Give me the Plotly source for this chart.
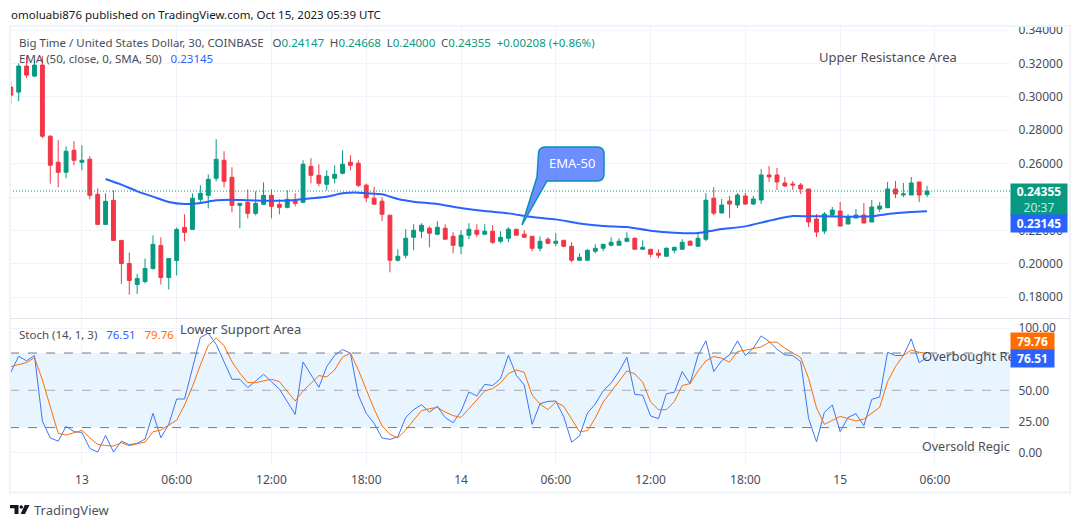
import pandas as pd
import plotly.graph_objects as go

W, H = 1080, 528

opens = [.3058,.3028,.3184,.3124,.3190,.2764,.2608,.2548,.2680,.2608,
.2626,.2416,.2236,.2380,.2140,.2002,.1876,.1894,.1972,.2110,
.1918,.2020,.2218,.2206,.2386,.2410,.2512,.2620,.2518,.2350,
.2368,.2302,.2356,.2410,.2356,.2338,.2380,.2368,.2584,.2530,
.2476,.2512,.2542,.2608,.2602,
.2471,.2393,.2375,.2291,.2021,.2051,.2159,.2195,.2213,.2177,
.2213,.2165,.2105,.2171,.2201,.2177,.2195,.2135,.2153,.2207,
.2177,.2165,.2093,.2147,.2123,.2141,.2105,.2021,.2021,.2075,
.2093,.2111,.2111,.2135,.2153,.2087,.2087,.2063,.2045,.2081,
.2087,.2135,.2105,.2147,.2393,
.2304,.2376,.2352,.2406,.2358,.2382,.2532,.2532,.2484,.2478,.2472,.2448,.2268,.2196,.2292,.2316,.2238,.2274,.2292,.2250,.2328,.2336,.2448,.2412,.2412,.2490,.24147]
closes = [.3010,.3184,.3130,.3190,.2764,.2590,.2548,.2674,.2620,.2620,
.2410,.2236,.2374,.2140,.2002,.1900,.1912,.1972,.2116,.1918,
.2032,.2206,.2188,.2392,.2422,.2506,.2626,.2494,.2350,.2362,
.2302,.2362,.2410,.2344,.2338,.2386,.2362,.2596,.2530,.2482,
.2524,.2536,.2596,.2590,.2470,
.2395,.2357,.2297,.2021,.2045,.2153,.2201,.2231,.2183,.2219,
.2147,.2111,.2171,.2207,.2177,.2195,.2129,.2159,.2207,.2171,
.2159,.2093,.2135,.2123,.2135,.2105,.2021,.2039,.2081,.2093,
.2117,.2129,.2135,.2153,.2087,.2099,.2057,.2051,.2093,.2099,
.2129,.2111,.2153,.2381,.2303,
.2352,.2358,.2412,.2358,.2388,.2532,.2520,.2490,.2466,.2472,.2448,.2250,.2190,.2298,.2322,.2226,.2280,.2292,.2244,.2340,.2346,.2448,.2418,.2418,.2484,.2412,.24355]
highs = [.3094,.3200,.3240,.3220,.3244,.2770,.2740,.2704,.2734,.2710,
.2644,.2452,.2422,.2440,.2140,.2068,.1940,.2032,.2170,.2158,
.2032,.2218,.2296,.2422,.2470,.2536,.2746,.2674,.2578,.2362,
.2446,.2434,.2488,.2446,.2386,.2440,.2422,.2620,.2632,.2596,
.2560,.2590,.2680,.2650,.2620,
.2481,.2461,.2399,.2291,.2087,.2207,.2237,.2243,.2225,.2255,
.2237,.2189,.2201,.2243,.2237,.2237,.2231,.2195,.2219,.2207,
.2201,.2165,.2165,.2159,.2183,.2141,.2129,.2063,.2087,.2117,
.2117,.2159,.2153,.2189,.2159,.2141,.2087,.2087,.2099,.2099,
.2147,.2141,.2189,.2423,.2459,
.2388,.2406,.2424,.2424,.2406,.2568,.2586,.2574,.2520,.2496,.2484,.2448,.2298,.2310,.2340,.2370,.2298,.2328,.2364,.2382,.2370,.2490,.2496,.2484,.2520,.2490,.24668]
lows = [.2956,.2974,.3112,.3118,.2752,.2480,.2458,.2512,.2590,.2560,
.2386,.2236,.2236,.2140,.1880,.1816,.1820,.1882,.1966,.1876,
.1846,.1930,.2134,.2206,.2362,.2332,.2494,.2458,.2308,.2212,
.2272,.2290,.2356,.2272,.2296,.2332,.2344,.2368,.2482,.2464,
.2440,.2482,.2536,.2560,.2460,
.2369,.2357,.2255,.1949,.2015,.2033,.2081,.2153,.2099,.2171,
.2147,.2063,.2057,.2147,.2159,.2177,.2117,.2123,.2129,.2171,
.2159,.2075,.2075,.2117,.2105,.2099,.2009,.2021,.2021,.2063,
.2075,.2105,.2111,.2129,.2087,.2087,.2039,.2033,.2045,.2063,
.2087,.2111,.2105,.2135,.2291,
.2304,.2274,.2334,.2352,.2352,.2358,.2490,.2442,.2460,.2442,.2418,.2220,.2160,.2178,.2286,.2226,.2238,.2274,.2244,.2250,.2310,.2334,.2394,.2400,.2412,.2370,.24000]

ema_bars = [12,14,16,18,20,22,24,26,28,30,32,34,36,38,40,42,44,45,47,49,51,54,57,60,63,66,69,72,75,78,81,84,87,89,90,93,96,99,101,103,106,109,111,114,116]
ema_vals = [.2508,.2474,.2434,.2402,.2370,.2358,.2364,.2380,.2384,.2380,.2378,.2378,.2382,.2392,.2402,.2422,.2426,.2422,.2416,.2388,.2372,.2358,.2334,.2316,.2302,.2280,.2266,.2242,.2226,.2220,.2198,.2186,.2184,.2200,.2208,.2224,.2258,.2286,.2284,.2284,.2282,.2284,.2298,.2310,.23145]

stoch_k = [64.5,77.4,73.7,78.0,25.3,11.6,9.1,21.0,16.7,16.1,3.2,0.3,13.7,0.3,9.1,6.2,7.3,10.8,31.5,11.8,22.6,43.0,43.0,67.7,92.5,96.0,87.0,73.0,58.9,58.9,52.2,57.5,62.9,57.0,51.0,40.9,30.6,72.8,62.4,52.4,69.1,78.0,82.8,79.8,46.2,
31.5,23.4,11.6,10.5,12.6,28.2,34.4,38.4,32.5,37.1,28.0,23.9,33.1,48.7,45.4,54.8,53.8,59.4,78.2,62.1,54.3,22.6,39.2,41.1,41.4,28.8,8.3,13.2,31.7,39.0,49.7,55.9,65.1,76.6,46.8,46.0,29.3,27.2,47.3,48.4,65.1,55.4,78.0,89.8,65.1,
73.9,78.5,89.8,78.0,83.9,93.8,89.2,83.1,78.5,78.0,73.1,27.4,8.6,32.3,38.2,16.7,28.2,31.2,21.5,42.7,44.6,80.6,78.0,78.0,91.4,72.3,76.51]
stoch_d = [69.1,70.4,72.3,76.3,58.3,36.8,15.3,14.0,15.9,17.7,11.8,6.5,5.6,5.1,7.8,5.4,7.0,8.3,16.7,18.0,22.0,26.0,38.2,53.0,70.4,86.0,92.0,86.0,73.0,63.7,56.2,56.2,57.5,58.9,57.0,48.9,41.4,49.5,55.6,61.8,60.8,66.4,76.6,80.0,66.4,
51.1,34.9,21.5,14.5,11.8,18.0,26.1,33.6,35.2,36.3,32.5,29.6,28.2,34.9,42.2,49.5,51.3,55.9,63.4,66.4,64.5,46.2,39.0,34.4,40.6,37.1,26.9,16.7,17.5,27.7,40.6,48.7,57.0,65.6,63.2,56.5,40.6,34.4,34.4,40.9,53.8,55.4,65.6,73.7,77.2,
75.8,72.6,81.2,82.3,83.9,84.9,88.7,88.7,83.9,80.4,76.3,59.7,36.0,22.6,26.1,29.0,27.2,25.3,26.9,31.5,36.3,57.0,69.1,78.0,82.3,80.6,79.76]

start_time = "2023-10-12 19:30"
x_range = ["2023-10-12 19:27", "2023-10-15 10:45"]
tick_times = ["2023-10-13 00:00","2023-10-13 06:00","2023-10-13 12:00","2023-10-13 18:00","2023-10-14 00:00",
              "2023-10-14 06:00","2023-10-14 12:00","2023-10-14 18:00","2023-10-15 00:00","2023-10-15 06:00"]
tick_labels = ["13","06:00","12:00","18:00","14","06:00","12:00","18:00","15","06:00"]
price_ticks = [.18,.20,.22,.24,.26,.28,.30,.32,.34]
price_labels = ["0.18000","0.20000","0.22000","","0.26000","0.28000","0.30000","0.32000","0.34000"]
stoch_ticks = [0,25,50,75,100]
stoch_labels = ["0.00","25.00","50.00","","100.00"]
overbought, oversold, midline = 80, 20, 50
last_close = closes[-1]

times = pd.date_range(start_time, periods=len(closes), freq="30min")
ema_x = [times[i] for i in ema_bars]

UP, DOWN, BLUE, ORANGE = "#089981", "#F23645", "#2962FF", "#FF6D00"
GRID = "#F0F3FA"
TXT = "#4A4D57"
FONT = "Noto Sans"

def px(x): return x / W
def py(y): return 1 - y / H

fig = go.Figure()
fig.add_trace(go.Candlestick(x=times, open=opens, high=highs, low=lows, close=closes,
    increasing=dict(line=dict(color=UP, width=1), fillcolor=UP),
    decreasing=dict(line=dict(color=DOWN, width=1), fillcolor=DOWN),
    xaxis="x", yaxis="y", showlegend=False))
fig.add_trace(go.Scatter(x=ema_x, y=ema_vals, mode="lines", xaxis="x", yaxis="y",
    line=dict(color=BLUE, width=2, shape="spline", smoothing=0.6), showlegend=False))
fig.add_trace(go.Scatter(x=times, y=stoch_k, mode="lines", xaxis="x2", yaxis="y2",
    line=dict(color="#3F74F5", width=1), showlegend=False))
fig.add_trace(go.Scatter(x=times, y=stoch_d, mode="lines", xaxis="x2", yaxis="y2",
    line=dict(color=ORANGE, width=1), showlegend=False))

PX_PER_PRICE = 1670.0
PX_PER_STOCH = 1.245
price_top = .34 + (30 - 26) / PX_PER_PRICE
price_bot = .34 - (318 - 30) / PX_PER_PRICE
stoch_top = 100 + (328.2 - 319) / PX_PER_STOCH
stoch_bot = -(465 - 452.4) / PX_PER_STOCH

axis_font = dict(family=FONT, size=12, color=TXT)
fig.update_layout(
    width=W, height=H, margin=dict(l=0, r=0, t=0, b=0, autoexpand=False), paper_bgcolor="white", plot_bgcolor="white",
    font=dict(family=FONT, size=12, color=TXT), showlegend=False, hovermode=False,
    xaxis=dict(domain=[px(10), px(1010)], range=x_range, type="date", anchor="y",
               tickvals=tick_times, showticklabels=False, ticks="", showgrid=True, gridcolor=GRID,
               gridwidth=1, zeroline=False, rangeslider=dict(visible=False)),
    yaxis=dict(domain=[py(318), py(26)], range=[price_bot, price_top], side="right", anchor="x",
               tickvals=price_ticks, ticktext=price_labels, tickfont=axis_font, ticks="outside", ticklen=5,
               tickcolor="rgba(0,0,0,0)", showgrid=True, gridcolor=GRID, zeroline=False, showline=False),
    xaxis2=dict(domain=[px(10), px(1010)], range=x_range, type="date", anchor="y2",
                tickvals=tick_times, ticktext=tick_labels, tickfont=axis_font, ticks="outside", ticklen=4,
                tickcolor="rgba(0,0,0,0)", showgrid=True, gridcolor=GRID, zeroline=False, showline=False),
    yaxis2=dict(domain=[py(465), py(319)], range=[stoch_bot, stoch_top], side="right", anchor="x2",
                tickvals=stoch_ticks, ticktext=stoch_labels, tickfont=axis_font, ticks="outside", ticklen=5,
                tickcolor="rgba(0,0,0,0)", showgrid=True, gridcolor=GRID, zeroline=False, showline=False),
)

shapes = []
shapes.append(dict(type="rect", xref="paper", yref="y2", x0=px(10), x1=px(1010), y0=oversold, y1=overbought,
                   fillcolor="rgba(33,150,243,0.10)", line_width=0, layer="below"))
for lvl, c in ((overbought, "#787B86"), (oversold, "#787B86"), (midline, "rgba(120,123,134,0.6)")):
    shapes.append(dict(type="line", xref="paper", yref="y2", x0=px(10), x1=px(1010), y0=lvl, y1=lvl,
                       line=dict(color=c, width=1, dash="dash"), layer="above"))
shapes.append(dict(type="line", xref="paper", yref="y", x0=px(10), x1=px(1010), y0=last_close, y1=last_close,
                   line=dict(color=UP, width=1, dash="1px,2px"), layer="above"))
shapes.append(dict(type="rect", xref="paper", yref="paper", x0=px(10), x1=px(1070), y0=py(492.5), y1=py(26),
                   line=dict(color=GRID, width=2), fillcolor="rgba(0,0,0,0)", layer="above"))
shapes.append(dict(type="line", xref="paper", yref="paper", x0=px(10), x1=px(1070), y0=py(318.5), y1=py(318.5),
                   line=dict(color="#E0E3EB", width=1), layer="above"))

def path(points):
    return "M " + " L ".join(f"{px(a)},{py(b)}" for a, b in points) + " Z"

L, R, T, B, r = 538.5, 604, 147, 181, 7
callout = (f"M {px(L+r)},{py(T)} L {px(R-r)},{py(T)} Q {px(R)},{py(T)} {px(R)},{py(T+r)} "
           f"L {px(R)},{py(B-r)} Q {px(R)},{py(B)} {px(R-r)},{py(B)} L {px(547)},{py(B)} L {px(522)},{py(225)} "
           f"L {px(537)},{py(B-4)} L {px(L)},{py(T+r)} Q {px(L)},{py(T)} {px(L+r)},{py(T)} Z")
shapes.append(dict(type="path", xref="paper", yref="paper", path=callout, fillcolor="#6C8EFF",
                   line=dict(color="#0A8FB8", width=1.5), layer="above"))
LOGO = "#131722"
shapes.append(dict(type="path", xref="paper", yref="paper",
                   path=path([(10,505),(18.5,505),(18.5,514),(14.5,514),(14.5,508.3),(10,508.3)]),
                   fillcolor=LOGO, line_width=0))
shapes.append(dict(type="circle", xref="paper", yref="paper", x0=px(19.5), x1=px(23), y0=py(508.8), y1=py(505.2),
                   fillcolor=LOGO, line_width=0))
shapes.append(dict(type="path", xref="paper", yref="paper",
                   path=path([(24.8,505),(29.5,505),(25,514),(20.6,514)]), fillcolor=LOGO, line_width=0))
fig.update_layout(shapes=shapes)

def note(x, y, text, size=12, color=TXT, anchor="left", **kw):
    fig.add_annotation(xref="paper", yref="paper", x=px(x), y=py(y), text=text, showarrow=False,
                       xanchor=anchor, yanchor="middle", align="left", borderpad=0,
                       font=dict(family=FONT, size=size, color=color), **kw)

def col(t, c):
    return f'<span style="color:{c}">{t}</span>'

sp = "\u2002"
sp2 = "\u2002\u2009\u200a"
note(10, 14.5, "omoluabi876 published on TradingView.com, Oct 15, 2023 05:39 UTC", size=11.5, color="#131722")
note(18, 42, "Big Time / United States Dollar, 30, COINBASE" + sp2
     + "O" + col("0.24147", UP) + sp + "H" + col("0.24668", UP) + sp + "L" + col("0.24000", UP) + sp
     + "C" + col("0.24355", UP) + sp + col("+0.00208 (+0.86%)", UP), size=11.5)
note(18, 58.5, "EMA (50, close, 0, SMA, 50)" + sp2 + col("0.23145", BLUE), size=11.5)
note(18, 334, "Stoch (14, 1, 3)" + sp2 + col("76.51", BLUE) + sp2 + col("79.76", ORANGE), size=11.5)
note(818, 57, "Upper Resistance Area", size=13)
note(179, 328.5, "Lower Support Area", size=13)
note(921, 356, "Overbought Re", size=13)
note(921, 446, "Oversold Regic", size=12.5)
note(571.5, 163.5, "EMA-50", size=13, color="white", anchor="center")
note(33, 510, "TradingView", size=13, color="#50535E")

def box(x, y, w, h, text, bg):
    fig.add_annotation(xref="paper", yref="paper", x=px(x), y=py(y), text=text, showarrow=False,
                       xanchor="left", yanchor="top", align="center", width=w, height=h, bgcolor=bg,
                       borderpad=0, font=dict(family=FONT, size=12, color="white"))

box(1010, 183, 56, 31, "<b>0.24355</b><br>" + col("20:37", "#C5E9E1"), UP)
box(1010, 214, 56, 17, "<b>0.23145</b>", BLUE)
box(1010, 332, 43, 17, "<b>79.76</b>", ORANGE)
box(1010, 349, 43, 17, "<b>76.51</b>", BLUE)

fig.write_html("out.html", config={"displayModeBar": False}, post_script="document.body.style.margin='0';")
